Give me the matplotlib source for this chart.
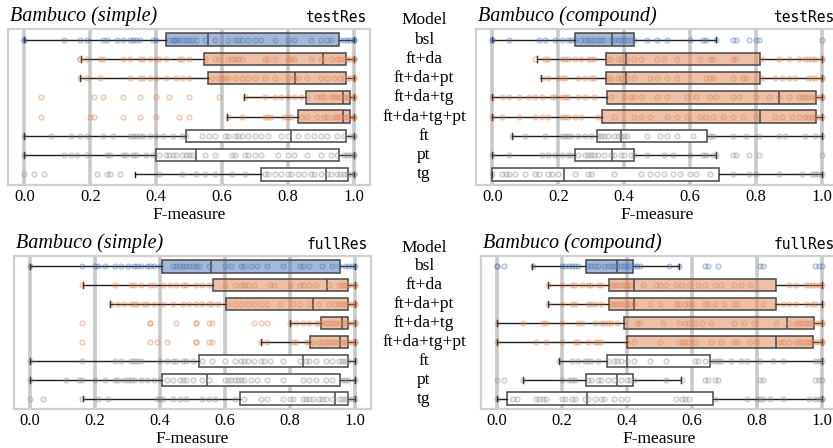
import numpy as np
import matplotlib.pyplot as plt
import matplotlib.transforms as mtransforms
from matplotlib.colors import to_rgba

plt.rcParams['font.family'] = ['Liberation Serif', 'DejaVu Serif']

models = ['bsl', 'ft+da', 'ft+da+pt', 'ft+da+tg', 'ft+da+tg+pt', 'ft', 'pt', 'tg']
row_colors = ['#4c72b0', '#dd8452', '#dd8452', '#dd8452', '#dd8452', 'white', 'white', 'white']
pt_colors = ['#4c72b0', '#dd8452', '#dd8452', '#dd8452', '#dd8452', '#8c8c8c', '#8c8c8c', '#8c8c8c']

# box statistics per model: whislo, q1, median, q3, whishi
# Bambuco (simple), testRes
s_test_lo = [0.0, 0.172, 0.169, 0.667, 0.616, 0.0, 0.0, 0.335]
s_test_q1 = [0.431, 0.547, 0.558, 0.856, 0.832, 0.492, 0.401, 0.719]
s_test_med = [0.558, 0.908, 0.822, 0.967, 0.967, 0.81, 0.522, 0.915]
s_test_q3 = [0.957, 0.977, 0.977, 0.989, 0.989, 0.977, 0.957, 0.984]
s_test_hi = [1.0, 1.0, 1.0, 1.0, 1.0, 1.0, 1.0, 1.0]

# Bambuco (compound), testRes
c_test_lo = [0.0, 0.134, 0.147, 0.0, 0.0, 0.059, 0.0, 0.0]
c_test_q1 = [0.251, 0.344, 0.344, 0.347, 0.332, 0.317, 0.251, 0.0]
c_test_med = [0.362, 0.407, 0.407, 0.870, 0.813, 0.39, 0.362, 0.218]
c_test_q3 = [0.430, 0.813, 0.813, 0.984, 0.984, 0.651, 0.430, 0.688]
c_test_hi = [0.68, 1.0, 1.0, 1.0, 1.0, 1.0, 0.68, 1.0]

# Bambuco (simple), fullRes
s_full_lo = [0.0, 0.163, 0.246, 0.80, 0.71, 0.0, 0.0, 0.163]
s_full_q1 = [0.405, 0.564, 0.603, 0.895, 0.862, 0.52, 0.405, 0.645]
s_full_med = [0.556, 0.915, 0.87, 0.96, 0.955, 0.84, 0.545, 0.94]
s_full_q3 = [0.955, 0.98, 0.98, 0.98, 0.98, 0.98, 0.955, 0.98]
s_full_hi = [1.0, 1.0, 1.0, 1.0, 1.0, 1.0, 1.0, 1.0]

# Bambuco (compound), fullRes
c_full_lo = [0.108, 0.155, 0.155, 0.0, 0.0, 0.19, 0.08, 0.0]
c_full_q1 = [0.275, 0.345, 0.345, 0.39, 0.40, 0.338, 0.275, 0.029]
c_full_med = [0.368, 0.421, 0.421, 0.892, 0.858, 0.40, 0.368, 0.276]
c_full_q3 = [0.418, 0.858, 0.858, 0.977, 0.974, 0.655, 0.418, 0.665]
c_full_hi = [0.559, 1.0, 1.0, 1.0, 1.0, 1.0, 0.567, 1.0]

# individual F-measure values per model
s_test_pts = [
    [0.0, 0.0, 0.12, 0.17, 0.19, 0.24, 0.25, 0.28, 0.30, 0.32, 0.33, 0.34, 0.35, 0.39, 0.40, 0.44, 0.45, 0.455, 0.46, 0.47, 0.48, 0.49, 0.50, 0.51, 0.52, 0.55, 0.58, 0.62, 0.64, 0.65, 0.66, 0.68, 0.70, 0.72, 0.76, 0.80, 0.82, 0.87, 0.90, 0.92, 0.93, 0.96, 0.97, 0.98, 0.99, 1.0, 1.0],
    [0.17, 0.17, 0.19, 0.23, 0.24, 0.30, 0.32, 0.35, 0.36, 0.38, 0.40, 0.41, 0.43, 0.47, 0.48, 0.50, 0.55, 0.58, 0.59, 0.62, 0.63, 0.64, 0.65, 0.66, 0.73, 0.74, 0.76, 0.80, 0.81, 0.82, 0.87, 0.90, 0.91, 0.93, 0.95, 0.96, 0.97, 0.98, 0.99, 1.0, 1.0, 1.0],
    [0.17, 0.19, 0.23, 0.32, 0.35, 0.36, 0.38, 0.40, 0.43, 0.46, 0.48, 0.50, 0.57, 0.59, 0.60, 0.61, 0.62, 0.64, 0.66, 0.68, 0.70, 0.73, 0.76, 0.80, 0.82, 0.83, 0.86, 0.90, 0.92, 0.94, 0.96, 0.97, 0.98, 0.99, 1.0, 1.0],
    [0.05, 0.21, 0.24, 0.30, 0.35, 0.40, 0.44, 0.50, 0.59, 0.67, 0.73, 0.76, 0.78, 0.80, 0.82, 0.84, 0.86, 0.89, 0.90, 0.91, 0.93, 0.94, 0.95, 0.96, 0.97, 0.98, 0.99, 1.0, 1.0],
    [0.05, 0.20, 0.21, 0.30, 0.35, 0.40, 0.47, 0.50, 0.62, 0.66, 0.73, 0.74, 0.75, 0.79, 0.80, 0.81, 0.84, 0.86, 0.89, 0.91, 0.92, 0.94, 0.95, 0.96, 0.97, 0.98, 0.99, 1.0, 1.0],
    [0.0, 0.08, 0.14, 0.17, 0.19, 0.24, 0.27, 0.32, 0.33, 0.34, 0.35, 0.36, 0.38, 0.40, 0.42, 0.45, 0.48, 0.49, 0.54, 0.56, 0.58, 0.61, 0.62, 0.64, 0.65, 0.66, 0.68, 0.70, 0.72, 0.74, 0.78, 0.80, 0.83, 0.86, 0.88, 0.90, 0.92, 0.95, 0.97, 0.99, 1.0, 1.0],
    [0.0, 0.12, 0.14, 0.16, 0.19, 0.25, 0.26, 0.30, 0.31, 0.33, 0.34, 0.37, 0.39, 0.41, 0.43, 0.44, 0.45, 0.46, 0.48, 0.49, 0.50, 0.51, 0.55, 0.58, 0.63, 0.64, 0.67, 0.68, 0.70, 0.72, 0.77, 0.80, 0.82, 0.86, 0.90, 0.93, 0.95, 0.97, 0.98, 0.99, 1.0, 1.0],
    [0.0, 0.03, 0.06, 0.22, 0.25, 0.26, 0.29, 0.41, 0.48, 0.52, 0.55, 0.58, 0.63, 0.67, 0.73, 0.74, 0.76, 0.78, 0.80, 0.81, 0.83, 0.85, 0.87, 0.88, 0.90, 0.92, 0.93, 0.95, 0.96, 0.97, 0.98, 0.99, 1.0, 1.0],
]
c_test_pts = [
    [0.0, 0.0, 0.05, 0.14, 0.16, 0.19, 0.21, 0.23, 0.24, 0.25, 0.27, 0.28, 0.29, 0.30, 0.31, 0.32, 0.33, 0.34, 0.36, 0.37, 0.38, 0.39, 0.40, 0.41, 0.42, 0.43, 0.47, 0.50, 0.53, 0.60, 0.64, 0.65, 0.68, 0.73, 0.74, 0.78, 0.80, 0.81, 1.0],
    [0.13, 0.16, 0.17, 0.21, 0.22, 0.23, 0.25, 0.27, 0.29, 0.30, 0.31, 0.35, 0.36, 0.38, 0.39, 0.41, 0.43, 0.45, 0.50, 0.52, 0.56, 0.63, 0.66, 0.67, 0.73, 0.74, 0.82, 0.87, 0.90, 0.93, 0.95, 0.96, 0.97, 0.98, 1.0, 1.0],
    [0.15, 0.17, 0.20, 0.21, 0.22, 0.26, 0.28, 0.30, 0.31, 0.35, 0.36, 0.38, 0.39, 0.41, 0.43, 0.48, 0.50, 0.53, 0.56, 0.65, 0.66, 0.67, 0.73, 0.76, 0.77, 0.82, 0.86, 0.88, 0.90, 0.92, 0.96, 0.97, 0.98, 1.0, 1.0],
    [0.0, 0.03, 0.05, 0.08, 0.11, 0.13, 0.15, 0.18, 0.19, 0.21, 0.22, 0.23, 0.26, 0.28, 0.31, 0.36, 0.40, 0.42, 0.43, 0.45, 0.50, 0.53, 0.59, 0.62, 0.66, 0.68, 0.73, 0.75, 0.80, 0.84, 0.87, 0.90, 0.93, 0.94, 0.95, 0.96, 0.97, 0.98, 0.99, 1.0, 1.0],
    [0.0, 0.03, 0.08, 0.13, 0.15, 0.17, 0.21, 0.22, 0.23, 0.25, 0.27, 0.32, 0.37, 0.43, 0.45, 0.48, 0.53, 0.56, 0.59, 0.63, 0.65, 0.67, 0.70, 0.73, 0.76, 0.80, 0.86, 0.88, 0.91, 0.93, 0.95, 0.96, 0.97, 0.98, 0.99, 1.0],
    [0.06, 0.10, 0.16, 0.21, 0.22, 0.23, 0.24, 0.26, 0.28, 0.30, 0.32, 0.33, 0.34, 0.35, 0.37, 0.38, 0.39, 0.40, 0.41, 0.47, 0.51, 0.53, 0.56, 0.61, 0.66, 0.67, 0.73, 0.77, 0.81, 0.87, 0.89, 0.95, 0.98, 1.0],
    [0.0, 0.05, 0.15, 0.17, 0.19, 0.21, 0.23, 0.24, 0.26, 0.28, 0.29, 0.30, 0.31, 0.32, 0.34, 0.36, 0.37, 0.39, 0.40, 0.42, 0.43, 0.47, 0.52, 0.55, 0.60, 0.64, 0.65, 0.67, 0.68, 0.73, 0.74, 0.78, 0.81, 1.0],
    [0.0, 0.03, 0.04, 0.05, 0.07, 0.10, 0.13, 0.14, 0.17, 0.18, 0.20, 0.25, 0.29, 0.30, 0.37, 0.45, 0.48, 0.50, 0.52, 0.55, 0.57, 0.60, 0.62, 0.66, 0.73, 0.78, 0.80, 0.87, 0.94, 0.97, 0.98, 0.99, 1.0],
]
s_full_pts = [
    [0.0, 0.16, 0.2, 0.21, 0.23, 0.26, 0.28, 0.30, 0.32, 0.33, 0.34, 0.36, 0.37, 0.38, 0.40, 0.44, 0.45, 0.46, 0.47, 0.48, 0.49, 0.50, 0.51, 0.52, 0.55, 0.60, 0.62, 0.65, 0.66, 0.68, 0.70, 0.73, 0.78, 0.83, 0.84, 0.86, 0.90, 0.93, 0.95, 0.97, 0.98, 0.99, 1.0],
    [0.16, 0.26, 0.31, 0.32, 0.34, 0.37, 0.38, 0.41, 0.43, 0.45, 0.47, 0.48, 0.51, 0.53, 0.55, 0.60, 0.63, 0.65, 0.66, 0.67, 0.69, 0.74, 0.75, 0.80, 0.83, 0.84, 0.86, 0.88, 0.92, 0.95, 0.96, 0.97, 0.98, 0.99, 1.0, 1.0],
    [0.25, 0.27, 0.29, 0.31, 0.32, 0.33, 0.35, 0.36, 0.38, 0.41, 0.44, 0.47, 0.49, 0.51, 0.53, 0.55, 0.56, 0.58, 0.61, 0.63, 0.65, 0.67, 0.69, 0.71, 0.73, 0.77, 0.81, 0.83, 0.86, 0.89, 0.92, 0.94, 0.95, 0.96, 0.97, 0.98, 0.99, 1.0, 1.0],
    [0.16, 0.37, 0.37, 0.45, 0.51, 0.51, 0.55, 0.56, 0.69, 0.71, 0.73, 0.80, 0.82, 0.84, 0.86, 0.88, 0.89, 0.90, 0.91, 0.92, 0.93, 0.94, 0.95, 0.96, 0.97, 0.98, 0.99, 1.0, 1.0],
    [0.16, 0.37, 0.39, 0.42, 0.51, 0.51, 0.55, 0.56, 0.71, 0.73, 0.81, 0.82, 0.85, 0.86, 0.87, 0.89, 0.90, 0.91, 0.92, 0.93, 0.94, 0.95, 0.96, 0.97, 0.98, 0.99, 1.0, 1.0],
    [0.0, 0.16, 0.26, 0.28, 0.31, 0.32, 0.33, 0.34, 0.40, 0.42, 0.44, 0.45, 0.47, 0.48, 0.50, 0.53, 0.56, 0.60, 0.63, 0.65, 0.66, 0.67, 0.69, 0.71, 0.72, 0.74, 0.78, 0.83, 0.85, 0.86, 0.88, 0.91, 0.93, 0.95, 0.96, 0.97, 0.98, 1.0],
    [0.0, 0.11, 0.15, 0.16, 0.20, 0.23, 0.26, 0.27, 0.29, 0.30, 0.31, 0.32, 0.34, 0.36, 0.38, 0.40, 0.42, 0.44, 0.46, 0.47, 0.48, 0.50, 0.53, 0.55, 0.60, 0.61, 0.62, 0.63, 0.64, 0.65, 0.66, 0.68, 0.70, 0.73, 0.78, 0.84, 0.86, 0.88, 0.91, 0.93, 0.96, 0.97, 0.98, 1.0],
    [0.0, 0.04, 0.16, 0.21, 0.24, 0.39, 0.40, 0.41, 0.44, 0.46, 0.48, 0.53, 0.55, 0.57, 0.63, 0.66, 0.71, 0.73, 0.78, 0.80, 0.81, 0.84, 0.85, 0.86, 0.87, 0.89, 0.90, 0.91, 0.93, 0.95, 0.96, 0.97, 0.98, 0.99, 1.0],
]
c_full_pts = [
    [0.0, 0.0, 0.02, 0.11, 0.20, 0.21, 0.22, 0.23, 0.24, 0.25, 0.28, 0.29, 0.30, 0.31, 0.33, 0.34, 0.35, 0.36, 0.37, 0.38, 0.39, 0.40, 0.41, 0.42, 0.43, 0.44, 0.53, 0.56, 0.64, 0.65, 0.68, 0.81, 0.82, 0.98, 0.99, 1.0],
    [0.155, 0.20, 0.23, 0.24, 0.26, 0.28, 0.29, 0.31, 0.32, 0.35, 0.36, 0.37, 0.38, 0.39, 0.40, 0.41, 0.45, 0.49, 0.50, 0.52, 0.55, 0.57, 0.59, 0.62, 0.64, 0.67, 0.69, 0.73, 0.75, 0.78, 0.90, 0.92, 0.95, 0.96, 0.97, 0.98, 0.99, 1.0],
    [0.155, 0.20, 0.23, 0.24, 0.28, 0.29, 0.30, 0.32, 0.35, 0.36, 0.37, 0.38, 0.39, 0.40, 0.41, 0.42, 0.47, 0.50, 0.55, 0.56, 0.58, 0.59, 0.60, 0.64, 0.65, 0.67, 0.70, 0.73, 0.74, 0.82, 0.86, 0.88, 0.90, 0.92, 0.95, 0.97, 0.98, 1.0],
    [0.0, 0.08, 0.14, 0.15, 0.20, 0.25, 0.26, 0.30, 0.32, 0.33, 0.34, 0.35, 0.37, 0.43, 0.44, 0.51, 0.56, 0.58, 0.59, 0.61, 0.63, 0.66, 0.73, 0.76, 0.79, 0.86, 0.90, 0.92, 0.93, 0.94, 0.95, 0.96, 0.97, 0.98, 0.99, 1.0, 1.0],
    [0.0, 0.12, 0.15, 0.20, 0.24, 0.25, 0.28, 0.30, 0.31, 0.32, 0.40, 0.42, 0.50, 0.56, 0.57, 0.58, 0.59, 0.61, 0.66, 0.69, 0.73, 0.74, 0.78, 0.80, 0.87, 0.88, 0.90, 0.92, 0.93, 0.94, 0.95, 0.96, 0.97, 0.98, 0.99, 1.0, 1.0],
    [0.19, 0.23, 0.25, 0.27, 0.28, 0.29, 0.31, 0.34, 0.36, 0.37, 0.38, 0.40, 0.42, 0.47, 0.52, 0.61, 0.62, 0.64, 0.66, 0.67, 0.68, 0.69, 0.72, 0.75, 0.77, 0.81, 0.85, 0.88, 0.98, 0.99, 1.0],
    [0.0, 0.02, 0.08, 0.20, 0.22, 0.23, 0.24, 0.28, 0.29, 0.31, 0.32, 0.34, 0.36, 0.38, 0.40, 0.41, 0.42, 0.52, 0.57, 0.64, 0.65, 0.67, 0.68, 0.81, 0.82, 0.98, 0.99, 1.0],
    [0.0, 0.05, 0.06, 0.12, 0.13, 0.14, 0.15, 0.20, 0.21, 0.23, 0.24, 0.27, 0.28, 0.30, 0.32, 0.33, 0.36, 0.38, 0.40, 0.55, 0.57, 0.58, 0.59, 0.67, 0.77, 0.80, 0.81, 0.82, 0.84, 0.88, 0.96, 0.98, 0.99, 1.0, 1.0],
]

fig = plt.figure(figsize=(8.33, 4.48), dpi=100)
W, H = 833, 448


def make_ax(x0, y0, x1, y1):
    return fig.add_axes([x0 / W, 1 - y1 / H, (x1 - x0) / W, (y1 - y0) / H])


panels = [
    (make_ax(8, 29, 370, 185), 'Bambuco (simple)', 'testRes',
     (s_test_lo, s_test_q1, s_test_med, s_test_q3, s_test_hi), s_test_pts),
    (make_ax(476, 29, 838, 185), 'Bambuco (compound)', 'testRes',
     (c_test_lo, c_test_q1, c_test_med, c_test_q3, c_test_hi), c_test_pts),
    (make_ax(14, 256, 371, 409), 'Bambuco (simple)', 'fullRes',
     (s_full_lo, s_full_q1, s_full_med, s_full_q3, s_full_hi), s_full_pts),
    (make_ax(481, 256, 838, 409), 'Bambuco (compound)', 'fullRes',
     (c_full_lo, c_full_q1, c_full_med, c_full_q3, c_full_hi), c_full_pts),
]

for ax, title, tag, (lo, q1, med, q3, hi), pts in panels:
    ax.set_xlim(-0.05, 1.05)
    ax.set_ylim(7.55, -0.55)
    # vertical grid
    for gx in [0, 0.2, 0.4, 0.6, 0.8, 1.0]:
        ax.axvline(gx, color='#c9c9c9', lw=2.6, zorder=0)

    stats = []
    for i in range(len(models)):
        stats.append(dict(whislo=lo[i], q1=q1[i], med=med[i], q3=q3[i], whishi=hi[i], fliers=[]))
    bp = ax.bxp(stats, positions=range(len(models)), orientation='horizontal', widths=0.65,
                capwidths=0.3, patch_artist=True, showfliers=False,
                boxprops=dict(edgecolor='#474747', linewidth=1.1),
                medianprops=dict(color='#474747', linewidth=1.1),
                whiskerprops=dict(color='#1e1e1e', linewidth=1.0),
                capprops=dict(color='#1e1e1e', linewidth=1.0))
    for patch, c in zip(bp['boxes'], row_colors):
        if c == 'white':
            patch.set_facecolor('white')
        else:
            patch.set_facecolor(to_rgba(c, 0.5))

    # individual results
    for i, vals in enumerate(pts):
        c = pt_colors[i]
        ax.scatter(vals, np.full(len(vals), i), s=13, facecolors=[to_rgba(c, 0.12)],
                   edgecolors=[to_rgba(c, 0.45)], linewidths=0.8, zorder=3)

    ax.set_yticks([])
    ax.set_xticks([0, 0.2, 0.4, 0.6, 0.8, 1.0])
    ax.set_xticklabels(['0.0', '0.2', '0.4', '0.6', '0.8', '1.0'], fontsize=12)
    ax.tick_params(axis='x', length=0, pad=3)
    ax.set_xlabel('F-measure', fontsize=12.5, labelpad=1)
    for sp in ax.spines.values():
        sp.set_color('#d0d0d0')
        sp.set_linewidth(1.6)

    ax.text(0.005, 1.02, title, transform=ax.transAxes, fontsize=14.5, style='italic',
            ha='left', va='bottom')
    ax.text(0.99, 1.025, tag, transform=ax.transAxes, fontsize=10.5, family='DejaVu Sans Mono',
            ha='right', va='bottom')

# model names between the panels
for ax in [panels[0][0], panels[2][0]]:
    tr = mtransforms.blended_transform_factory(fig.transFigure, ax.transData)
    fig.text(424 / W, -1, 'Model', transform=tr, ha='center', va='center', fontsize=12.5)
    for i, m in enumerate(models):
        fig.text(424 / W, i, m, transform=tr, ha='center', va='center', fontsize=12.5)

fig.savefig('out.png', dpi=100)
